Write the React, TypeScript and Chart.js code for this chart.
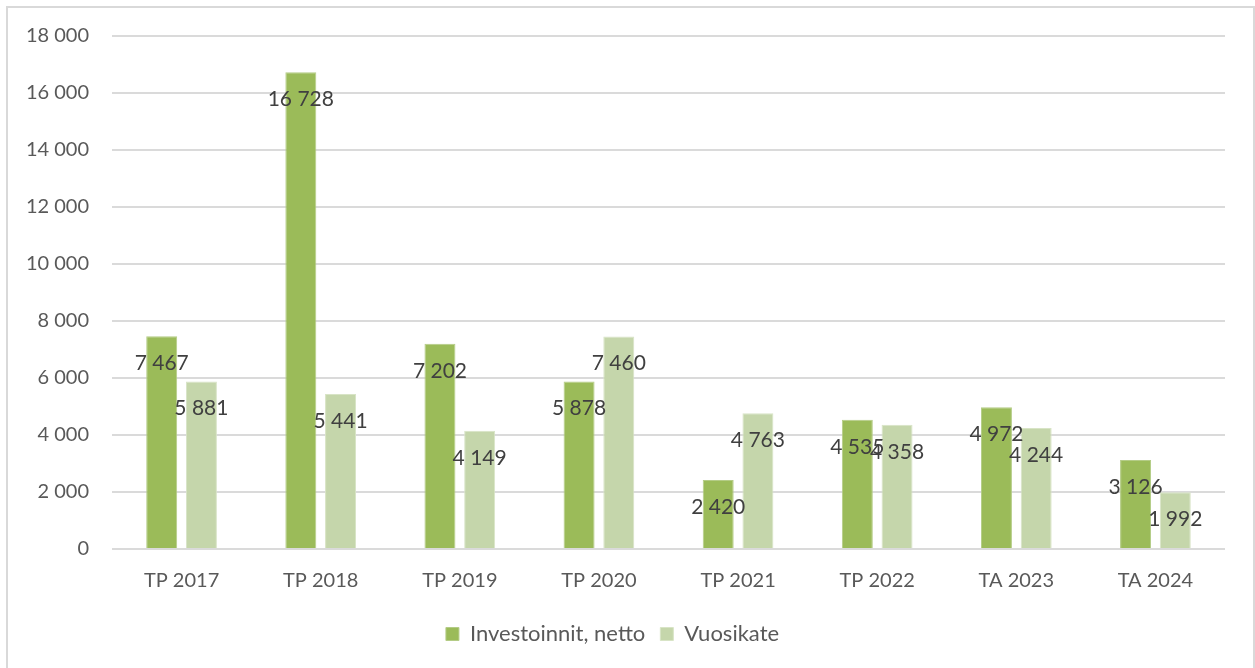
import React, { useEffect, useRef } from "react";
import { Chart, registerables } from "chart.js";

Chart.register(...registerables);

const categories = ["TP 2017", "TP 2018", "TP 2019", "TP 2020", "TP 2021", "TP 2022", "TA 2023", "TA 2024"];
const investoinnit = [7467, 16728, 7202, 5878, 2420, 4535, 4972, 3126];
const vuosikate = [5881, 5441, 4149, 7460, 4763, 4358, 4244, 1992];
const seriesNames = ["Investoinnit, netto", "Vuosikate"];

const FONT = "Lato, 'Open Sans', sans-serif";

const fmt = (v: number) => {
  const s = Math.round(v).toString();
  return s.replace(/\B(?=(\d{3})+(?!\d))/g, " ");
};

const dataLabels = {
  id: "dataLabels",
  afterDatasetsDraw(chart: any) {
    const ctx = chart.ctx;
    ctx.save();
    ctx.font = `21px ${FONT}`;
    ctx.fillStyle = "#404040";
    ctx.textAlign = "center";
    ctx.textBaseline = "middle";
    chart.data.datasets.forEach((ds: any, i: number) => {
      const meta = chart.getDatasetMeta(i);
      meta.data.forEach((el: any, j: number) => {
        ctx.fillText(fmt(ds.data[j]), el.x, el.y + 27);
      });
    });
    ctx.restore();
  },
};

export default function App() {
  const ref = useRef<HTMLCanvasElement | null>(null);

  useEffect(() => {
    document.body.style.margin = "0";
    if (!ref.current) return;
    const chart = new Chart(ref.current, {
      type: "bar",
      data: {
        labels: categories,
        datasets: [
          {
            label: seriesNames[0],
            data: investoinnit,
            backgroundColor: "#9BBB59",
            borderColor: "#B4CC86",
            borderWidth: 1,
            categoryPercentage: 0.571,
            barPercentage: 0.78,
          },
          {
            label: seriesNames[1],
            data: vuosikate,
            backgroundColor: "#C5D6AB",
            borderColor: "#D8E4C6",
            borderWidth: 1,
            categoryPercentage: 0.571,
            barPercentage: 0.78,
          },
        ],
      },
      options: {
        animation: false,
        responsive: false,
        maintainAspectRatio: false,
        layout: { padding: { top: 36, right: 30, left: 0, bottom: 13 } },
        plugins: {
          legend: {
            position: "bottom",
            labels: {
              boxWidth: 13,
              boxHeight: 13,
              padding: 15,
              color: "#595959",
              font: { family: FONT, size: 22 },
            },
          },
          tooltip: { enabled: false },
        },
        scales: {
          x: {
            grid: { display: false },
            border: { display: false },
            ticks: { color: "#595959", font: { family: FONT, size: 20 }, padding: 12 },
            afterFit: (s: any) => {
              s.height = 59;
            },
          },
          y: {
            min: 0,
            max: 18000,
            grid: { color: "#DADADA", lineWidth: 2, drawTicks: false },
            border: { display: false },
            ticks: {
              stepSize: 2000,
              padding: 23,
              color: "#595959",
              font: { family: FONT, size: 20 },
              callback: (v: any) => fmt(Number(v)),
            },
            afterFit: (s: any) => {
              s.width = 112;
            },
          },
        },
      },
      plugins: [dataLabels],
    });
    return () => chart.destroy();
  }, []);

  return (
    <div style={{ position: "relative", width: 1255, height: 668, overflow: "hidden", background: "#fff" }}>
      <canvas ref={ref} width={1255} height={668} style={{ position: "absolute", left: 0, top: 0 }} />
      <div
        style={{
          position: "absolute",
          left: 6,
          top: 6,
          width: 1249,
          height: 700,
          boxSizing: "border-box",
          border: "2px solid #D9D9D9",
          pointerEvents: "none",
        }}
      />
    </div>
  );
}
